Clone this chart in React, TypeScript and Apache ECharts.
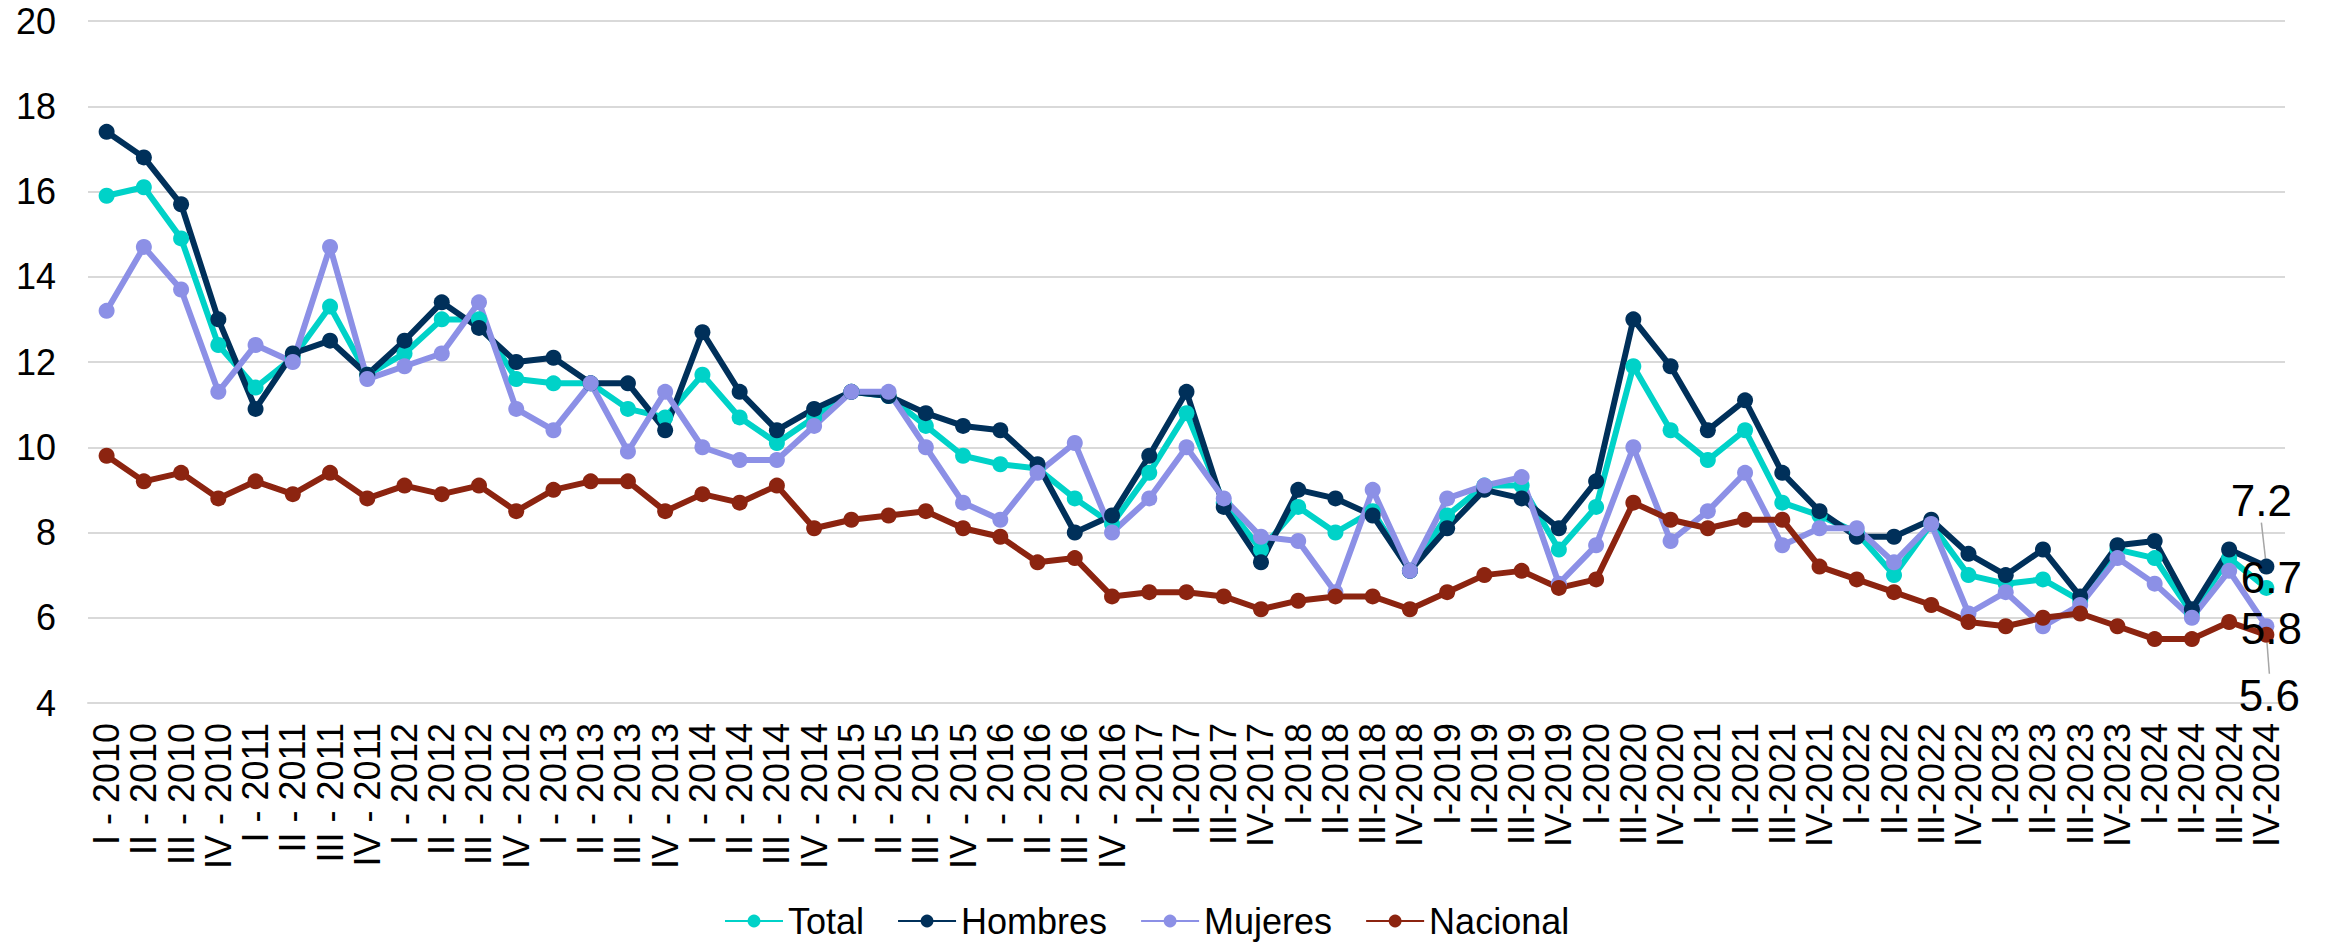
import React, { useEffect, useRef } from "react";
import * as echarts from "echarts";

const categories = [
  "I - 2010", "II - 2010", "III - 2010", "IV - 2010",
  "I - 2011", "II - 2011", "III - 2011", "IV - 2011",
  "I - 2012", "II - 2012", "III - 2012", "IV - 2012",
  "I - 2013", "II - 2013", "III - 2013", "IV - 2013",
  "I - 2014", "II - 2014", "III - 2014", "IV - 2014",
  "I - 2015", "II - 2015", "III - 2015", "IV - 2015",
  "I - 2016", "II - 2016", "III - 2016", "IV - 2016",
  "I-2017", "II-2017", "III-2017", "IV-2017",
  "I-2018", "II-2018", "III-2018", "IV-2018",
  "I-2019", "II-2019", "III-2019", "IV-2019",
  "I-2020", "III-2020", "IV-2020",
  "I-2021", "II-2021", "III-2021", "IV-2021",
  "I-2022", "II-2022", "III-2022", "IV-2022",
  "I-2023", "II-2023", "III-2023", "IV-2023",
  "I-2024", "II-2024", "III-2024", "IV-2024",
];

const total = [
  15.9, 16.1, 14.9, 12.4, 11.4, 12.1, 13.3, 11.7, 12.2, 13.0, 13.0, 11.6,
  11.5, 11.5, 10.9, 10.7, 11.7, 10.7, 10.1, 10.7, 11.3, 11.2, 10.5, 9.8,
  9.6, 9.5, 8.8, 8.2, 9.4, 10.8, 8.7, 7.6, 8.6, 8.0, 8.5, 7.1,
  8.4, 9.1, 9.1, 7.6, 8.6, 11.9, 10.4, 9.7, 10.4, 8.7, 8.4,
  8.0, 7.0, 8.2, 7.0, 6.8, 6.9, 6.4, 7.6, 7.4, 6.1, 7.4, 6.7,
];

const hombres = [
  17.4, 16.8, 15.7, 13.0, 10.9, 12.2, 12.5, 11.7, 12.5, 13.4, 12.8, 12.0,
  12.1, 11.5, 11.5, 10.4, 12.7, 11.3, 10.4, 10.9, 11.3, 11.2, 10.8, 10.5,
  10.4, 9.6, 8.0, 8.4, 9.8, 11.3, 8.6, 7.3, 9.0, 8.8, 8.4, 7.1,
  8.1, 9.0, 8.8, 8.1, 9.2, 13.0, 11.9, 10.4, 11.1, 9.4, 8.5,
  7.9, 7.9, 8.3, 7.5, 7.0, 7.6, 6.5, 7.7, 7.8, 6.2, 7.6, 7.2,
];

const mujeres = [
  13.2, 14.7, 13.7, 11.3, 12.4, 12.0, 14.7, 11.6, 11.9, 12.2, 13.4, 10.9,
  10.4, 11.5, 9.9, 11.3, 10.0, 9.7, 9.7, 10.5, 11.3, 11.3, 10.0, 8.7,
  8.3, 9.4, 10.1, 8.0, 8.8, 10.0, 8.8, 7.9, 7.8, 6.6, 9.0, 7.1,
  8.8, 9.1, 9.3, 6.8, 7.7, 10.0, 7.8, 8.5, 9.4, 7.7, 8.1,
  8.1, 7.3, 8.2, 6.1, 6.6, 5.8, 6.3, 7.4, 6.8, 6.0, 7.1, 5.8,
];

const nacional = [
  9.8, 9.2, 9.4, 8.8, 9.2, 8.9, 9.4, 8.8, 9.1, 8.9, 9.1, 8.5,
  9.0, 9.2, 9.2, 8.5, 8.9, 8.7, 9.1, 8.1, 8.3, 8.4, 8.5, 8.1,
  7.9, 7.3, 7.4, 6.5, 6.6, 6.6, 6.5, 6.2, 6.4, 6.5, 6.5, 6.2,
  6.6, 7.0, 7.1, 6.7, 6.9, 8.7, 8.3, 8.1, 8.3, 8.3, 7.2,
  6.9, 6.6, 6.3, 5.9, 5.8, 6.0, 6.1, 5.8, 5.5, 5.5, 5.9, 5.6,
];

const seriesNames = ["Total", "Hombres", "Mujeres", "Nacional"];
const seriesColors = ["#00D2C8", "#00305A", "#8C90E6", "#8C2410"];
const yMin = 4;
const yMax = 20;
const yInterval = 2;

const FONT = "'Liberation Sans', Arial, sans-serif";

function makeSeries(
  name: string,
  values: number[],
  color: string,
  dx: number,
  dy: number,
  showGuide: boolean
) {
  const last = values.length - 1;
  return {
    name,
    type: "line",
    data: values.map((v, i) =>
      i === last ? { value: v, label: { show: true } } : v
    ),
    symbol: "circle",
    symbolSize: 16,
    lineStyle: { width: 6, color },
    itemStyle: { color },
    label: {
      show: false,
      position: "inside",
      color: "#000",
      fontSize: 44,
      fontFamily: FONT,
      formatter: (p: any) => Number(p.value).toFixed(1),
    },
    labelLayout: { dx, dy },
    labelLine: {
      show: showGuide,
      lineStyle: { color: "#A6A6A6", width: 1.5 },
    },
    emphasis: { disabled: true },
  };
}

export default function App() {
  const ref = useRef<HTMLDivElement>(null);

  useEffect(() => {
    if (!ref.current) return;
    const chart = echarts.init(ref.current, null, { renderer: "svg" });
    chart.setOption({
      animation: false,
      backgroundColor: "#fff",
      textStyle: { fontFamily: FONT },
      grid: {
        left: 88,
        right: 43,
        top: 21,
        bottom: 240,
        containLabel: false,
        outerBoundsMode: "none",
      },
      legend: {
        data: seriesNames,
        left: 724,
        top: 902,
        padding: 0,
        itemWidth: 58,
        itemHeight: 16,
        itemGap: 33,
        textStyle: {
          fontSize: 36,
          lineHeight: 38,
          color: "#000",
          fontFamily: FONT,
        },
      },
      xAxis: {
        type: "category",
        data: categories,
        boundaryGap: true,
        axisLine: { show: true, lineStyle: { color: "#D9D9D9", width: 2 } },
        axisTick: { show: false },
        axisLabel: {
          interval: 0,
          rotate: 90,
          margin: 20,
          fontSize: 36,
          color: "#000",
          fontFamily: FONT,
        },
      },
      yAxis: {
        type: "value",
        min: yMin,
        max: yMax,
        interval: yInterval,
        axisLine: { show: false },
        axisTick: { show: false },
        splitLine: { lineStyle: { color: "#D9D9D9", width: 2 } },
        axisLabel: {
          margin: 32,
          fontSize: 36,
          color: "#000",
          fontFamily: FONT,
        },
      },
      series: [
        makeSeries(seriesNames[0], total, seriesColors[0], 5, -10, false),
        makeSeries(seriesNames[1], hombres, seriesColors[1], -5, -66, true),
        makeSeries(seriesNames[2], mujeres, seriesColors[2], 5, 2, false),
        makeSeries(seriesNames[3], nacional, seriesColors[3], 3, 61, true),
      ],
    });
    return () => chart.dispose();
  }, []);

  return (
    <div
      ref={ref}
      style={{
        position: "absolute",
        left: 0,
        top: 0,
        width: 2328,
        height: 943,
        background: "#fff",
      }}
    />
  );
}
